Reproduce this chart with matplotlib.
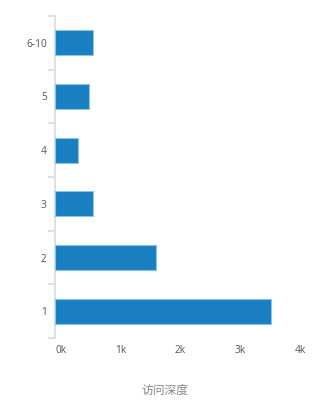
import matplotlib
matplotlib.use("Agg")
import matplotlib.pyplot as plt

categories = ["1", "2", "3", "4", "5", "6-10"]
values = [3600, 1680, 640, 385, 565, 630]
xticks = [0, 1000, 2000, 3000, 4000]
xtick_labels = ["0k", "1k", "2k", "3k", "4k"]
title = "访问深度"

plt.rcParams['font.family'] = ['Open Sans', 'Noto Sans CJK SC', 'DejaVu Sans']

W, H = 329, 413
fig = plt.figure(figsize=(W / 100, H / 100), dpi=100)
ax = fig.add_axes([55 / W, 1 - 338 / H, 240 / W, (338 - 16) / H])

ypos = list(range(len(categories)))
ax.barh(ypos, values, height=0.46, color="#1a7fc0", edgecolor="#8cc3ea", linewidth=0.8, zorder=3)

ax.set_xlim(0, 4000)
ax.set_ylim(-0.5, len(categories) - 0.5)

for s in ["top", "right", "bottom"]:
    ax.spines[s].set_visible(False)
ax.spines["left"].set_color("#d5dbe8")
ax.spines["left"].set_linewidth(1.2)

ax.set_yticks(ypos)
ax.set_yticklabels(categories, fontsize=7.3, color="#555555")
ax.tick_params(axis="y", which="major", length=0, pad=6)
ax.set_yticks([y - 0.5 for y in range(len(categories) + 1)], minor=True)
ax.tick_params(axis="y", which="minor", length=5, color="#d5dbe8", width=1.2)

ax.set_xticks(xticks)
ax.set_xticklabels(xtick_labels, fontsize=7.3, color="#555555")
ax.tick_params(axis="x", length=0, pad=5)
for lbl in ax.get_xticklabels():
    lbl.set_horizontalalignment("left")

fig.text(165 / W, 1 - 390 / H, title, ha="center", va="center", fontsize=8.5, color="#888888",
         family=['Noto Sans CJK SC', 'DejaVu Sans'])

fig.savefig("out.png", dpi=100)
